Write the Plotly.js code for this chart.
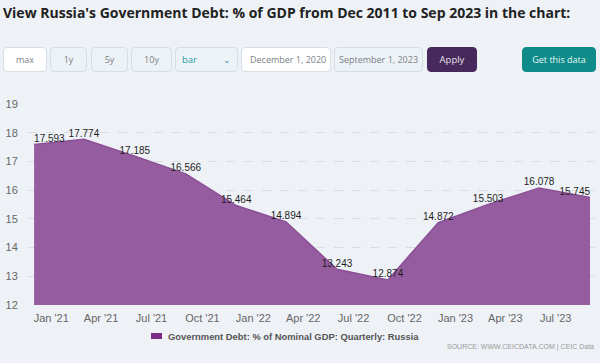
<!DOCTYPE html>
<html>
<head>
<meta charset="utf-8">
<script src="https://cdn.plot.ly/plotly-3.0.1.min.js"></script>
<style>
  html, body { margin:0; padding:0; background:#eef2f7; }
  #wrap { position:relative; width:600px; height:363px; overflow:hidden; }
  #chart { position:absolute; left:0; top:0; width:600px; height:363px; }
  .btn { position:absolute; top:47px; height:25px; box-sizing:border-box; border:1px solid #d6dee6;
         border-radius:4px; font-family:"Open Sans", "Liberation Sans", sans-serif; font-size:9px;
         color:#7a7f86; display:flex; align-items:center; justify-content:center; background:#edf2f7; }
  .white { background:#ffffff; }
</style>
</head>
<body>
<div id="wrap">
  <div id="chart"></div>
  <div class="btn white" style="left:3px;width:44px;">max</div>
  <div class="btn" style="left:50px;width:37px;">1y</div>
  <div class="btn" style="left:91px;width:37px;">5y</div>
  <div class="btn" style="left:131px;width:41px;">10y</div>
  <div class="btn" style="left:175px;width:63px;justify-content:space-between;padding:0 6px;color:#1f9aa3;font-size:9.5px;"><span>bar</span><span style="font-size:9px;">&#8964;</span></div>
  <div class="btn white" style="left:241px;width:90px;justify-content:flex-start;padding-left:8px;">December 1, 2020</div>
  <div class="btn" style="left:334px;width:89px;">September 1, 2023</div>
  <div class="btn" style="left:427px;width:50px;background:#47295b;border-color:#47295b;color:#e8e2ee;font-size:9.5px;">Apply</div>
  <div class="btn" style="left:522px;width:74px;background:#0f8c8a;border-color:#0f8c8a;color:#e6f4f4;font-size:9px;">Get this data</div>
</div>
<script>
const dates = ['2020-12-01','2021-03-01','2021-06-01','2021-09-01','2021-12-01','2022-03-01',
               '2022-06-01','2022-09-01','2022-12-01','2023-03-01','2023-06-01','2023-09-01'];
const values = [17.593, 17.774, 17.185, 16.566, 15.464, 14.894, 13.243, 12.874, 14.872, 15.503, 16.078, 15.745];
const labelPositions = ['top right','top center','top center','top center','top center','top center',
                        'top center','top center','top center','top center','top center','top left'];
const seriesName = 'Government Debt: % of Nominal GDP: Quarterly: Russia';
const chartTitle = "View Russia's Government Debt: % of GDP from Dec 2011 to Sep 2023 in the chart:";
const sourceText = 'SOURCE: WWW.CEICDATA.COM | CEIC Data';

const trace = {
  x: dates, y: values, type:'scatter', mode:'lines+text', fill:'tozeroy',
  fillcolor:'#955c9f', line:{color:'#8b4f96', width:1.5},
  text: values.map(v => v.toFixed(3)), textposition: labelPositions,
  textfont:{family:'Liberation Sans, Arial, sans-serif', size:10, color:'#1e1e1e'},
  hoverinfo:'skip', showlegend:false, cliponaxis:false
};

const layout = {
  width:600, height:363,
  margin:{l:28, r:5, t:104, b:58},
  paper_bgcolor:'#eef2f7', plot_bgcolor:'#eef2f7',
  title:{text:'<b>'+chartTitle+'</b>', x:3/600, xanchor:'left', xref:'container',
         y:1-13/363, yanchor:'middle', yref:'container',
         font:{family:'Open Sans, sans-serif', size:14, color:'#222'}},
  xaxis:{type:'date', range:['2020-11-20','2023-09-10'], tick0:'2021-01-01', dtick:'M3',
         tickformat:"%b '%y", showgrid:false, zeroline:false, showline:false,
         ticks:'outside', ticklen:3, tickcolor:'rgba(0,0,0,0)',
         tickfont:{family:'Liberation Sans, Arial, sans-serif', size:11, color:'#666'}},
  yaxis:{range:[12,19], dtick:1, tick0:12, showgrid:true, gridcolor:'#d9dde2', griddash:'dash',
         zeroline:false, showline:false, ticks:'outside', ticklen:7, tickcolor:'rgba(0,0,0,0)',
         tickfont:{family:'Liberation Sans, Arial, sans-serif', size:11, color:'#666'}},
  shapes:[{type:'rect', xref:'paper', yref:'paper',
           x0:(151-28)/567, x1:(162-28)/567, y0:(305-339)/201, y1:(305-333)/201,
           fillcolor:'#7b2d84', line:{width:0}}],
  annotations:[
    {text:'<b>'+seriesName+'</b>', xref:'paper', yref:'paper', x:(166-28)/567, y:(305-336)/201,
     xanchor:'left', yanchor:'middle', showarrow:false,
     font:{family:'Liberation Sans, Arial, sans-serif', size:9.4, color:'#555'}},
    {text:sourceText, xref:'paper', yref:'paper', x:(596-28)/567, y:(305-347)/201,
     xanchor:'right', yanchor:'middle', showarrow:false,
     font:{family:'Liberation Sans, Arial, sans-serif', size:7, color:'#999'}}
  ]
};

Plotly.newPlot('chart', [trace], layout, {displayModeBar:false, staticPlot:true});
</script>
</body>
</html>
